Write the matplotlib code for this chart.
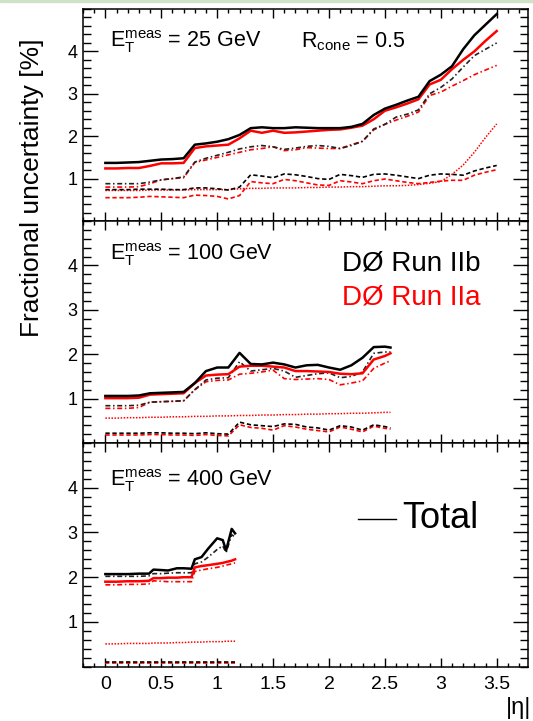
# -*- coding: utf-8 -*-
# JES fractional uncertainty vs |eta|, three ET bins, Run IIb vs Run IIa

import numpy as np
import matplotlib
matplotlib.use('Agg')
import matplotlib.pyplot as plt
from matplotlib.ticker import MultipleLocator, FixedLocator, FuncFormatter
from matplotlib.patches import Rectangle

plt.rcParams['font.family'] = ['Liberation Sans', 'DejaVu Sans']
plt.rcParams['mathtext.fontset'] = 'custom'
plt.rcParams['mathtext.rm'] = 'Liberation Sans'
plt.rcParams['mathtext.it'] = 'Liberation Sans:italic'

# ---------------- panel 1 : ET = 25 GeV ----------------
eta_25 = [0.0, 0.1, 0.2, 0.3, 0.4, 0.5, 0.6, 0.7, 0.8, 0.9, 1.0, 1.1, 1.2, 1.3, 1.4, 1.5, 1.6, 1.7,
          1.8, 1.9, 2.0, 2.1, 2.2, 2.3, 2.4, 2.5, 2.6, 2.7, 2.8, 2.9, 3.0, 3.1, 3.2, 3.3, 3.4, 3.5]
tot_b_25 = [1.37, 1.37, 1.38, 1.39, 1.42, 1.45, 1.46, 1.48, 1.80, 1.83, 1.87, 1.93, 2.03, 2.19, 2.21, 2.19,
            2.19, 2.21, 2.20, 2.19, 2.19, 2.19, 2.22, 2.29, 2.50, 2.65, 2.74, 2.84, 2.93, 3.30, 3.45, 3.65,
            4.05, 4.38, 4.63, 4.88]
tot_a_25 = [1.24, 1.24, 1.25, 1.25, 1.30, 1.36, 1.36, 1.37, 1.72, 1.76, 1.78, 1.80, 1.95, 2.13, 2.08, 2.13,
            2.08, 2.09, 2.11, 2.13, 2.15, 2.16, 2.20, 2.25, 2.40, 2.60, 2.68, 2.77, 2.87, 3.22, 3.33, 3.58,
            3.80, 4.00, 4.25, 4.48]
dd_b_25 = [0.88, 0.88, 0.88, 0.88, 0.92, 0.97, 1.00, 1.04, 1.39, 1.48, 1.55, 1.62, 1.70, 1.75, 1.78, 1.75,
           1.69, 1.72, 1.76, 1.78, 1.76, 1.71, 1.78, 1.88, 2.17, 2.28, 2.45, 2.52, 2.62, 3.00, 3.15, 3.35,
           3.63, 3.90, 4.05, 4.20]
dd_a_25 = [0.80, 0.80, 0.80, 0.81, 0.88, 0.97, 1.00, 1.02, 1.38, 1.44, 1.50, 1.56, 1.62, 1.68, 1.71, 1.75,
           1.66, 1.68, 1.73, 1.72, 1.71, 1.71, 1.80, 1.88, 2.15, 2.28, 2.38, 2.47, 2.57, 2.96, 3.04, 3.18,
           3.31, 3.45, 3.56, 3.67]
da_b_25 = [0.74, 0.74, 0.74, 0.75, 0.75, 0.75, 0.74, 0.74, 0.78, 0.78, 0.76, 0.73, 0.80, 1.09, 1.06, 1.02,
           1.11, 1.09, 1.05, 1.00, 0.98, 1.10, 1.07, 1.03, 1.10, 1.11, 1.08, 1.04, 1.00, 1.08, 1.11, 1.10,
           1.08, 1.18, 1.25, 1.31]
da_a_25 = [0.55, 0.55, 0.55, 0.56, 0.58, 0.57, 0.56, 0.55, 0.61, 0.60, 0.58, 0.52, 0.60, 0.93, 0.90, 0.88,
           0.98, 0.95, 0.90, 0.85, 0.84, 0.95, 0.92, 0.88, 0.95, 0.99, 0.95, 0.91, 0.88, 0.91, 0.94, 0.96,
           0.96, 1.08, 1.15, 1.21]
dt_a_25 = [0.72, 0.72, 0.72, 0.72, 0.73, 0.73, 0.73, 0.73, 0.74, 0.74, 0.74, 0.74, 0.76, 0.77, 0.77, 0.78,
           0.78, 0.78, 0.79, 0.79, 0.80, 0.80, 0.81, 0.81, 0.82, 0.83, 0.83, 0.84, 0.86, 0.89, 0.93, 1.10,
           1.32, 1.62, 1.97, 2.29]

# ---------------- panel 2 : ET = 100 GeV ----------------
eta_100 = [0.0, 0.1, 0.2, 0.3, 0.4, 0.5, 0.6, 0.7, 0.8, 0.9, 1.0, 1.1, 1.2, 1.3, 1.4, 1.5, 1.6, 1.7,
           1.8, 1.9, 2.0, 2.1, 2.2, 2.3, 2.4, 2.5, 2.55]
tot_b_100 = [1.06, 1.06, 1.06, 1.07, 1.12, 1.13, 1.14, 1.15, 1.35, 1.62, 1.70, 1.70, 2.03, 1.78, 1.77, 1.81,
             1.77, 1.70, 1.75, 1.76, 1.70, 1.65, 1.75, 1.92, 2.16, 2.17, 2.15]
tot_a_100 = [1.01, 1.01, 1.01, 1.02, 1.09, 1.10, 1.11, 1.12, 1.35, 1.52, 1.54, 1.55, 1.72, 1.74, 1.74, 1.72,
             1.70, 1.62, 1.62, 1.61, 1.60, 1.56, 1.55, 1.57, 1.88, 1.96, 2.02]
dd_b_100 = [0.84, 0.84, 0.84, 0.85, 0.92, 0.93, 0.94, 0.95, 1.20, 1.42, 1.46, 1.47, 1.83, 1.62, 1.65, 1.68,
            1.62, 1.48, 1.52, 1.56, 1.58, 1.47, 1.50, 1.60, 2.02, 2.05, 2.05]
dd_a_100 = [0.78, 0.78, 0.78, 0.80, 0.92, 0.93, 0.94, 0.95, 1.20, 1.38, 1.41, 1.42, 1.55, 1.57, 1.60, 1.64,
            1.45, 1.43, 1.44, 1.45, 1.43, 1.31, 1.35, 1.40, 1.68, 1.80, 1.85]
da_b_100 = [0.22, 0.22, 0.22, 0.22, 0.23, 0.23, 0.22, 0.22, 0.21, 0.23, 0.21, 0.20, 0.47, 0.41, 0.39, 0.37,
            0.43, 0.42, 0.36, 0.34, 0.29, 0.39, 0.36, 0.29, 0.41, 0.37, 0.34]
da_a_100 = [0.18, 0.18, 0.18, 0.18, 0.19, 0.19, 0.18, 0.18, 0.17, 0.19, 0.17, 0.16, 0.41, 0.35, 0.33, 0.29,
            0.39, 0.36, 0.31, 0.28, 0.25, 0.36, 0.31, 0.25, 0.38, 0.33, 0.31]
dt_a_100 = [0.56, 0.56, 0.57, 0.57, 0.58, 0.58, 0.59, 0.59, 0.60, 0.60, 0.61, 0.61, 0.62, 0.62, 0.63, 0.63,
            0.64, 0.64, 0.65, 0.65, 0.66, 0.66, 0.67, 0.67, 0.68, 0.69, 0.69]

# ---------------- panel 3 : ET = 400 GeV ----------------
eta_400 = [0.0, 0.1, 0.2, 0.3, 0.39, 0.43, 0.5, 0.56, 0.64, 0.7, 0.77, 0.80, 0.86, 0.92, 1.0, 1.05, 1.08,
           1.13, 1.16]
tot_b_400 = [2.07, 2.07, 2.07, 2.08, 2.08, 2.17, 2.16, 2.15, 2.20, 2.20, 2.19, 2.40, 2.45, 2.64, 2.87, 2.83,
             2.60, 3.08, 2.98]
tot_a_400 = [1.90, 1.90, 1.91, 1.91, 1.92, 1.98, 1.98, 1.99, 1.99, 2.00, 2.00, 2.22, 2.25, 2.27, 2.30, 2.32,
             2.34, 2.37, 2.40]
dd_b_400 = [2.02, 2.02, 2.02, 2.02, 2.03, 2.08, 2.08, 2.09, 2.10, 2.10, 2.10, 2.30, 2.34, 2.45, 2.62, 2.70,
            2.55, 2.95, 2.90]
dd_a_400 = [1.83, 1.83, 1.84, 1.84, 1.85, 1.92, 1.91, 1.90, 1.90, 1.90, 1.90, 2.13, 2.16, 2.19, 2.22, 2.25,
            2.27, 2.30, 2.32]
da_b_400 = [0.10, 0.10, 0.10, 0.10, 0.10, 0.10, 0.10, 0.10, 0.10, 0.10, 0.10, 0.10, 0.10, 0.10, 0.10, 0.10,
            0.10, 0.10, 0.10]
da_a_400 = [0.09, 0.09, 0.09, 0.09, 0.09, 0.09, 0.09, 0.09, 0.09, 0.09, 0.09, 0.09, 0.09, 0.09, 0.09, 0.09,
            0.09, 0.09, 0.09]
dt_a_400 = [0.51, 0.51, 0.52, 0.52, 0.52, 0.53, 0.53, 0.53, 0.54, 0.54, 0.55, 0.55, 0.55, 0.56, 0.56, 0.56,
            0.57, 0.57, 0.57]

panel_labels = [r'$\mathrm{E_T^{meas}}$ = 25 GeV', r'$\mathrm{E_T^{meas}}$ = 100 GeV',
                r'$\mathrm{E_T^{meas}}$ = 400 GeV']

RED = '#ff0000'
DASHDOT = (0, (3.0, 1.6, 0.9, 1.6))
DASHED = (0, (2.6, 1.6))
DOTTED = (0, (1.0, 1.0))


def setup_axes(ax, show_xlabels):
    ax.set_xlim(-0.2, 3.78)
    ax.set_ylim(0, 5)
    ax.xaxis.set_major_locator(MultipleLocator(0.5))
    ax.xaxis.set_minor_locator(MultipleLocator(0.1))
    ax.yaxis.set_major_locator(FixedLocator([1, 2, 3, 4]))
    ax.yaxis.set_minor_locator(MultipleLocator(0.2))
    ax.tick_params(which='both', direction='in', top=True, right=True, width=1.0)
    ax.tick_params(axis='y', which='major', length=11, labelsize=13, pad=4)
    ax.tick_params(axis='y', which='minor', length=5.5)
    ax.tick_params(axis='x', which='major', length=6.5, labelsize=14, pad=7)
    ax.tick_params(axis='x', which='minor', length=3.2)
    ax.xaxis.set_major_formatter(FuncFormatter(lambda v, p: '%g' % v))
    if not show_xlabels:
        ax.tick_params(axis='x', labelbottom=False)
    for s in ax.spines.values():
        s.set_linewidth(1.1)


def draw(ax, eta, tb, ta, ddb, dda, dab, daa, dta):
    ax.plot(eta, dta, color=RED, lw=1.1, ls=DOTTED)
    ax.plot(eta, daa, color=RED, lw=1.2, ls=DASHED)
    ax.plot(eta, dab, color='black', lw=1.2, ls=DASHED)
    ax.plot(eta, dda, color=RED, lw=1.2, ls=DASHDOT)
    ax.plot(eta, ddb, color='#222222', lw=1.2, ls=DASHDOT)
    ax.plot(eta, ta, color=RED, lw=1.8)
    ax.plot(eta, tb, color='black', lw=1.8)


fig = plt.figure(figsize=(5.33, 7.21), dpi=100)
left, width = 83 / 533, 445 / 533
ax1 = fig.add_axes([left, 1 - 221 / 721, width, 212 / 721])
ax2 = fig.add_axes([left, 1 - 443 / 721, width, 222 / 721])
ax3 = fig.add_axes([left, 1 - 666.7 / 721, width, 223.7 / 721])

draw(ax1, eta_25, tot_b_25, tot_a_25, dd_b_25, dd_a_25, da_b_25, da_a_25, dt_a_25)
draw(ax2, eta_100, tot_b_100, tot_a_100, dd_b_100, dd_a_100, da_b_100, da_a_100, dt_a_100)
draw(ax3, eta_400, tot_b_400, tot_a_400, dd_b_400, dd_a_400, da_b_400, da_a_400, dt_a_400)

for ax, lab, ytxt in zip([ax1, ax2, ax3], panel_labels, [0.82, 0.824, 0.81]):
    setup_axes(ax, ax is ax3)
    ax.text(0.061, ytxt, lab, transform=ax.transAxes, fontsize=15.5, va='baseline', ha='left')

ax1.text(0.491, 0.82, r'$\mathrm{R_{cone}}$ = 0.5', transform=ax1.transAxes, fontsize=15.5,
         va='baseline', ha='left')
ax2.text(0.582, 0.779, 'DØ Run IIb', transform=ax2.transAxes, fontsize=20, color='black',
         va='baseline', ha='left')
ax2.text(0.582, 0.622, 'DØ Run IIa', transform=ax2.transAxes, fontsize=20, color=RED,
         va='baseline', ha='left')

# "Total" legend entry
ax3.plot([0.618, 0.703], [0.66, 0.66], color='black', lw=1.0, transform=ax3.transAxes)
ax3.text(0.717, 0.621, 'Total', transform=ax3.transAxes, fontsize=26, va='baseline', ha='left')

fig.text(32 / 533, 1 - 188 / 721, 'Fractional uncertainty [%]', rotation=90, fontsize=19,
         ha='center', va='center')
fig.text(531 / 533, 1 - 697 / 721, '|η|', fontsize=17, ha='right', va='top')

# thin green slide border at the top
fig.patches.append(Rectangle((0, 1 - 2 / 721), 1, 2 / 721, transform=fig.transFigure,
                             color='#cfe2c8', zorder=0))

fig.savefig('out.png', dpi=100)
